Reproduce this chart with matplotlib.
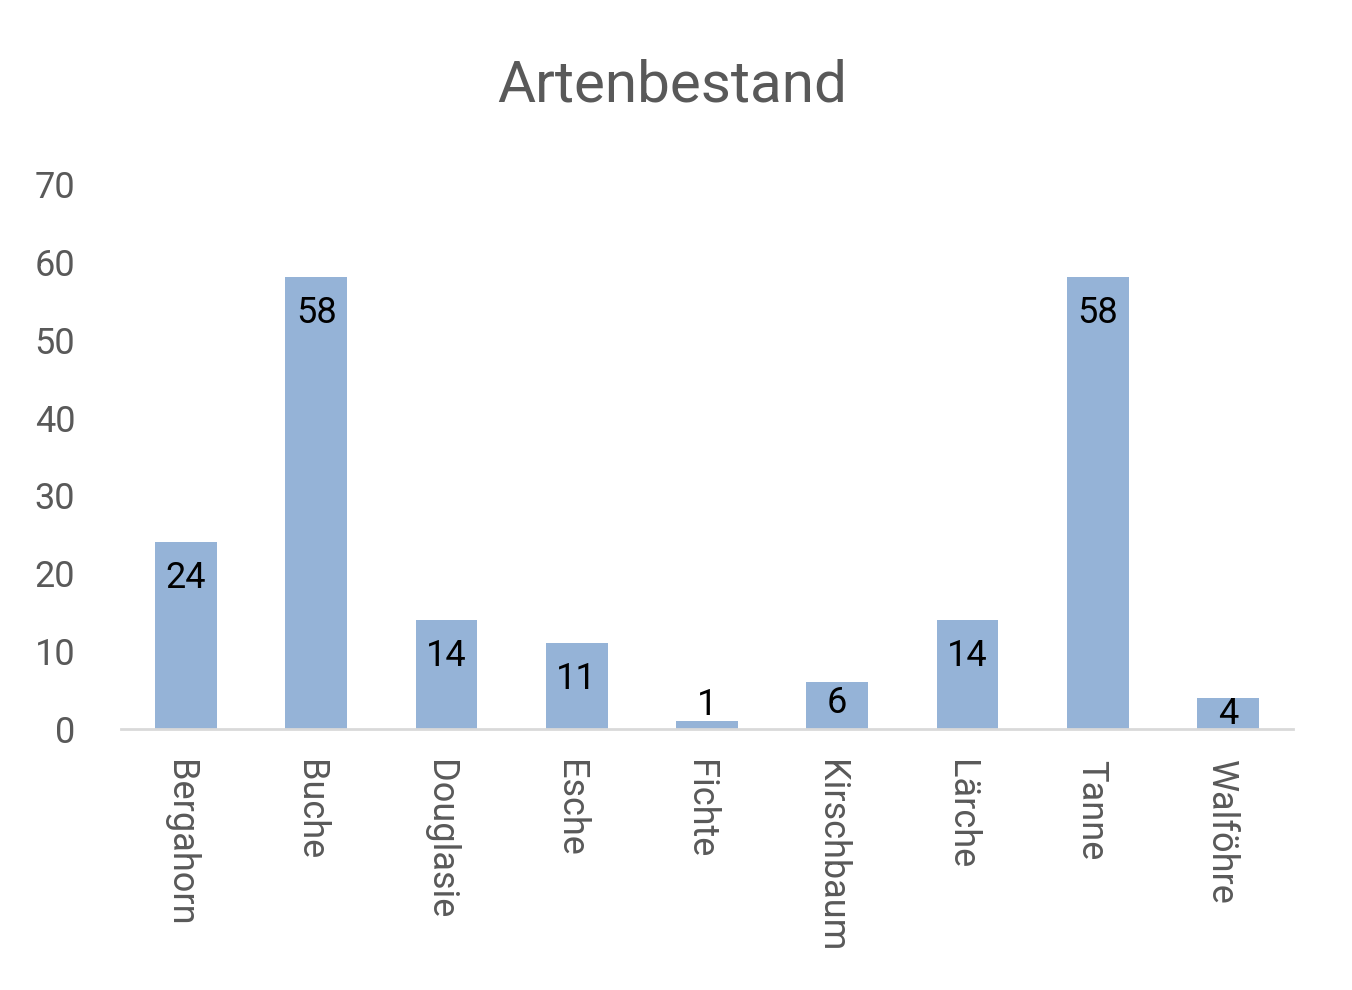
import numpy as np
import matplotlib.pyplot as plt

# Artenbestand data
arten = ['Bergahorn', 'Buche', 'Douglasie', 'Esche', 'Fichte',
         'Kirschbaum', 'Lärche', 'Tanne', 'Walföhre']
anzahl = [24, 58, 14, 11, 1, 6, 14, 58, 4]
yticks = [0, 10, 20, 30, 40, 50, 60, 70]

# label offset below the bar end (data units), short bars handled apart
label_off = [4.6, 4.6, 4.6, 4.6, -2.1, 2.7, 4.6, 4.6, 2.1]

plt.rcParams['font.family'] = ['Roboto', 'DejaVu Sans']
grey = '#595959'

fig = plt.figure(figsize=(13.52, 9.9), dpi=100)
ax = fig.add_axes([121/1352, 1-729/990, (1293-121)/1352, (729-184)/990])

x = np.arange(len(arten))
ax.bar(x, anzahl, width=0.475, color='#95B3D7')

for xi, v, off in zip(x, anzahl, label_off):
    ax.text(xi, v - off, str(v), ha='center', va='center', fontsize=26, color='black')

ax.set_xlim(-0.5, len(arten) - 0.5)
ax.set_ylim(0, 70)
ax.set_yticks(yticks)
ax.set_xticks(x - 0.05)
ax.set_xticklabels(arten, rotation=270, va='top', ha='center')
ax.tick_params(axis='y', length=0, pad=33, labelsize=26, labelcolor=grey)
ax.tick_params(axis='x', length=0, pad=22, labelsize=26, labelcolor=grey)

for s in ['top', 'right', 'left']:
    ax.spines[s].set_visible(False)
ax.spines['bottom'].set_color('#D9D9D9')
ax.spines['bottom'].set_linewidth(2)

fig.text(0.497, 1-86/990, 'Artenbestand', ha='center', va='center',
         fontsize=42, color=grey)

fig.savefig('out.png', dpi=100)
